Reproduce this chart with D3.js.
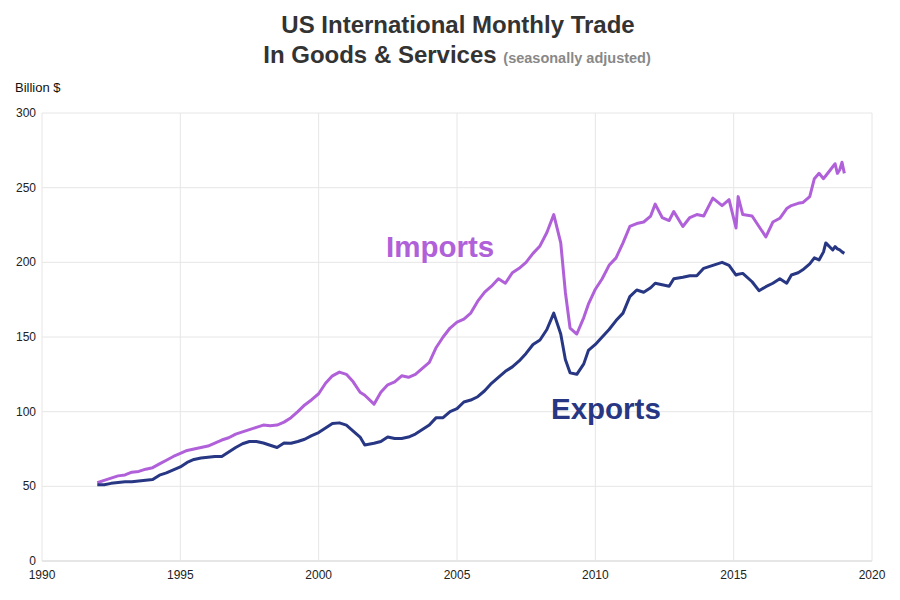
<!DOCTYPE html>
<html>
<head>
<meta charset="utf-8">
<script src="https://cdn.jsdelivr.net/npm/d3@7"></script>
<style>
  body { margin: 0; background: #fff; }
  text { font-family: "Liberation Sans", Arial, sans-serif; }
</style>
</head>
<body>
<script>
// sample dates (year-month)
const dates = [
  "1992-01","1992-04","1992-07","1992-10","1993-01","1993-04","1993-07","1993-10",
  "1994-01","1994-04","1994-07","1994-10","1995-01","1995-04","1995-07","1995-10",
  "1996-01","1996-04","1996-07","1996-10","1997-01","1997-04","1997-07","1997-10",
  "1998-01","1998-04","1998-07","1998-10","1999-01","1999-04","1999-07","1999-10",
  "2000-01","2000-04","2000-07","2000-10","2001-01","2001-04","2001-07","2001-09",
  "2002-01","2002-04","2002-07","2002-10","2003-01","2003-04","2003-07","2003-10",
  "2004-01","2004-04","2004-07","2004-10","2005-01","2005-04","2005-07","2005-10",
  "2006-01","2006-04","2006-07","2006-10","2007-01","2007-04","2007-07","2007-10",
  "2008-01","2008-04","2008-07","2008-10","2008-12","2009-02","2009-05","2009-08","2009-10",
  "2010-01","2010-04","2010-07","2010-10","2011-01","2011-04","2011-07","2011-10",
  "2012-01","2012-03","2012-06","2012-09","2012-11","2013-03","2013-06","2013-09","2013-12",
  "2014-04","2014-08","2014-11","2015-02","2015-03","2015-05","2015-09","2015-12",
  "2016-03","2016-06","2016-09","2016-12","2017-02","2017-05","2017-07","2017-10","2017-12",
  "2018-02","2018-04","2018-05","2018-08","2018-09","2018-10","2018-11","2018-12","2019-01"
];
const imports = [
  52.4,54,55.5,57, 57.6,59.5,60,61.5,
  62.5,65,67.5,70, 72,74,75,76,
  77,79,81,82.5, 85,86.5,88,89.5,
  91,90.5,91,93, 96,100,104.5,108,
  112,119,124,126.5, 125,120,113,111,
  105,113,118,120, 124,123,125,129,
  133,143,150,156, 160,162,166,174,
  180,184,189,186, 193,196,200,206,
  211,220,232,213,180,156,152,163,172,
  182,189,198,203, 213,224,226,227,
  231,239,230,228,234, 224,230,232,231,
  243,238,242, 223,244,232,231,224,
  217,227,229.5,236, 238,239.5,240,244,256,
  259.6,256,258,264,266,259.6,262,267,259.6
];
const exports = [
  51,51,52,52.5, 53,53,53.5,54,
  54.5,57.5,59,61, 63,66,68,69,
  69.5,70,70,73, 76,78.5,80,80,
  79,77.5,76,79, 78.8,80,81.5,84,
  86,89,92,92.5, 91,87,83,77.7,
  78.8,80,83,82, 82,83,85,88,
  91,96,96,100, 102,106.5,107.8,110,
  114,119,123,127, 130,134,139,145,
  148,155,166,152,135,126,125,132,141,
  145,150,155,161, 166,177,181.5,180,
  183,186,185,184,189, 190,191,191,196,
  198,200,198, 191.5,192,192.6,187,181,
  183.7,186,189,186, 191.5,193,195,199,203,
  201.6,207,213,208.3,210.5,209,208.3,207,206
];
const yTicks = [0, 50, 100, 150, 200, 250, 300];
const xTicks = [1990, 1995, 2000, 2005, 2010, 2015, 2020];

const W = 900, H = 600;
const m = { left: 42, right: 28, top: 113, bottom: 39 };

const svg = d3.select('body').append('svg')
  .attr('width', W).attr('height', H);

const parse = d3.timeParse('%Y-%m');
const x = d3.scaleTime()
  .domain([new Date(1990, 0, 1), new Date(2020, 0, 1)])
  .range([m.left, W - m.right]);
const y = d3.scaleLinear()
  .domain([0, 300])
  .range([H - m.bottom, m.top]);

// grid
svg.append('g').selectAll('line.h').data(yTicks).join('line')
  .attr('x1', m.left).attr('x2', W - m.right)
  .attr('y1', d => y(d)).attr('y2', d => y(d))
  .attr('stroke', '#e6e6e6').attr('stroke-width', d => d === 0 ? 2 : 1);
svg.append('g').selectAll('line.v').data(xTicks).join('line')
  .attr('x1', d => x(new Date(d, 0, 1))).attr('x2', d => x(new Date(d, 0, 1)))
  .attr('y1', m.top).attr('y2', H - m.bottom)
  .attr('stroke', '#e6e6e6');

// tick labels
svg.append('g').selectAll('text').data(yTicks).join('text')
  .attr('x', m.left - 6).attr('y', d => y(d) + 4)
  .attr('text-anchor', 'end').attr('font-size', 12).attr('fill', '#222')
  .text(d => d);
svg.append('g').selectAll('text').data(xTicks).join('text')
  .attr('x', d => x(new Date(d, 0, 1))).attr('y', H - m.bottom + 18)
  .attr('text-anchor', 'middle').attr('font-size', 12).attr('fill', '#222')
  .text(d => d);

// lines
const pts = s => dates.map((d, i) => [parse(d), s[i]]);
const line = d3.line().x(d => x(d[0])).y(d => y(d[1]));

svg.append('path').datum(pts(imports))
  .attr('d', line).attr('fill', 'none')
  .attr('stroke', '#b060d8').attr('stroke-width', 3).attr('stroke-linejoin', 'round');
svg.append('path').datum(pts(exports))
  .attr('d', line).attr('fill', 'none')
  .attr('stroke', '#283784').attr('stroke-width', 3).attr('stroke-linejoin', 'round');

// series labels
svg.append('text').attr('x', 386).attr('y', 257)
  .attr('font-size', 29.5).attr('font-weight', 'bold').attr('fill', '#b060d8')
  .text('Imports');
svg.append('text').attr('x', 551).attr('y', 419)
  .attr('font-size', 29.5).attr('font-weight', 'bold').attr('fill', '#283784')
  .text('Exports');

// titles
svg.append('text').attr('x', 458).attr('y', 33).attr('text-anchor', 'middle')
  .attr('font-size', 24).attr('font-weight', 'bold').attr('fill', '#333')
  .text('US International Monthly Trade');
const t2 = svg.append('text').attr('x', 457).attr('y', 63).attr('text-anchor', 'middle')
  .attr('font-weight', 'bold');
t2.append('tspan').attr('font-size', 24).attr('fill', '#333').text('In Goods & Services ');
t2.append('tspan').attr('font-size', 14.5).attr('fill', '#888').text('(seasonally adjusted)');

svg.append('text').attr('x', 15).attr('y', 92)
  .attr('font-size', 13).attr('fill', '#111')
  .text('Billion $');
</script>
</body>
</html>
